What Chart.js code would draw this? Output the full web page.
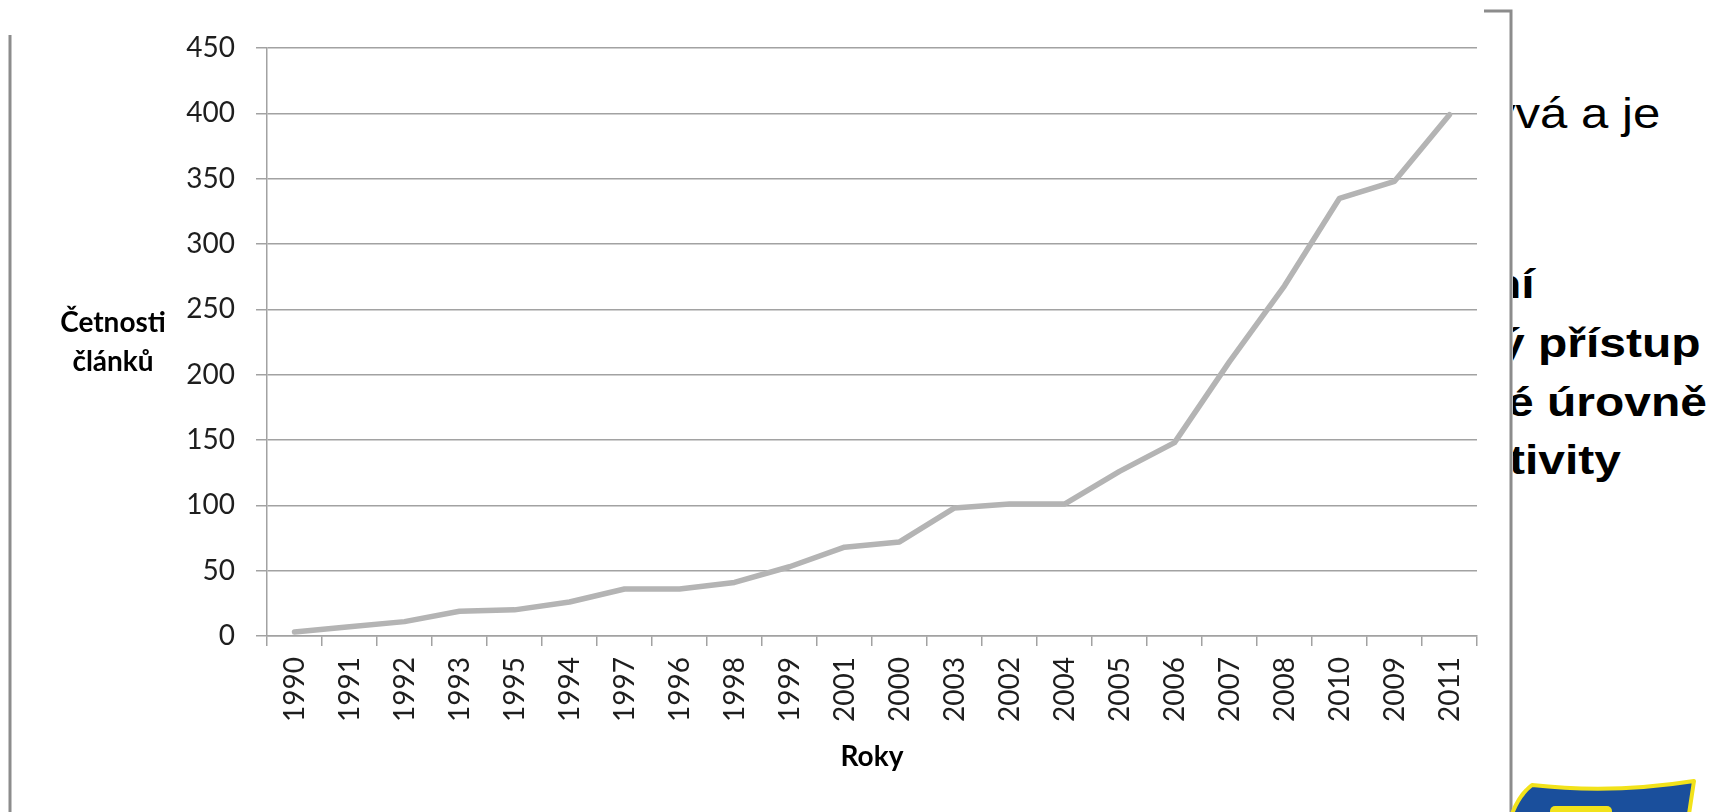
<!DOCTYPE html>
<html lang="cs">
<head>
<meta charset="utf-8">
<title>Četnosti článků podle roků</title>
<script src="https://cdn.jsdelivr.net/npm/chart.js@4.4.1/dist/chart.umd.min.js"></script>
<style>
  html, body { margin: 0; padding: 0; background: #ffffff; }
  #page { position: relative; width: 1723px; height: 812px; overflow: hidden; background: #ffffff; }
  #chartBox { position: absolute; left: 0; top: 0; width: 1723px; height: 812px; }
  #deco { position: absolute; left: 0; top: 0; width: 1723px; height: 812px; pointer-events: none; }
</style>
</head>
<body>
<div id="page">
  <svg id="deco" width="1723" height="812" xmlns="http://www.w3.org/2000/svg">
    <defs>
      <clipPath id="slideText"><rect x="1513" y="0" width="210" height="812"/></clipPath>
    </defs>
    <!-- slide text partly covered by the chart frame -->
    <g clip-path="url(#slideText)" fill="#000000" font-family="'Liberation Sans', Arial, sans-serif">
      <text transform="translate(1491,128) scale(1.17,1)" font-size="42">ývá a je</text>
      <g font-weight="bold" font-size="41">
        <text transform="translate(1492,298) scale(1.17,1)">ní</text>
        <text transform="translate(1498,357) scale(1.17,1)">ý přístup</text>
        <text transform="translate(1507,416) scale(1.17,1)">é úrovně</text>
        <text transform="translate(1509,474) scale(1.17,1)">tivity</text>
      </g>
    </g>
    <!-- frame edges -->
    <line x1="10" y1="35" x2="10" y2="812" stroke="#8c8c8c" stroke-width="3"/>
    <polyline points="1484,11 1511,11 1511,812" fill="none" stroke="#8c8c8c" stroke-width="3"/>
    <!-- shield emblem in the corner -->
    <path d="M1532,785 Q1612,794 1694,781 L1689,814 L1512,814 Q1519,795 1532,785 Z"
          fill="#1a4f9c" stroke="#f2e21a" stroke-width="4" stroke-linejoin="round"/>
    <rect x="1550" y="806" width="62" height="14" rx="5" fill="#f2e21a"/>
  </svg>
  <div id="chartBox"><canvas id="chart"></canvas></div>
</div>
<script>
// Years in the order they are listed on the category axis
const years = ['1990', '1991', '1992', '1993', '1995', '1994', '1997', '1996', '1998', '1999', '2001',
               '2000', '2003', '2002', '2004', '2005', '2006', '2007', '2008', '2010', '2009', '2011'];
// Number of articles per year
const articleCounts = [3, 7, 11, 19, 20, 26, 36, 36, 41, 53, 68,
                       72, 98, 101, 101, 126, 148, 210, 268, 335, 348, 399];
// Value axis range and step
const yMin = 0;
const yMax = 450;
const yStep = 50;
// Axis titles
const xTitle = 'Roky';
const yTitleLines = ['Četnosti', 'článků'];

const axisGrey = '#a2a2a2';
const labelColor = '#1e1e1e';
const tickFont = { family: 'Lato, "Open Sans", sans-serif', size: 28 };
const titleFont = { family: 'Lato, "Open Sans", sans-serif', size: 28, weight: 'bold' };

// Horizontal, two-line value-axis title drawn to the left of the tick labels
const sideTitle = {
  id: 'sideTitle',
  afterDraw(chart) {
    const { ctx, chartArea } = chart;
    const midY = (chartArea.top + chartArea.bottom) / 2;
    const lineGap = 39;
    ctx.save();
    ctx.font = `bold ${titleFont.size}px ${titleFont.family}`;
    ctx.fillStyle = '#000000';
    ctx.textAlign = 'center';
    ctx.textBaseline = 'middle';
    yTitleLines.forEach((line, i) => {
      const y = midY + (i - (yTitleLines.length - 1) / 2) * lineGap;
      ctx.fillText(line, 113, y);
    });
    ctx.restore();
  }
};

new Chart(document.getElementById('chart'), {
  type: 'line',
  data: {
    labels: years,
    datasets: [{
      data: articleCounts,
      borderColor: '#b4b4b4',
      borderWidth: 5.5,
      borderJoinStyle: 'round',
      borderCapStyle: 'round',
      tension: 0,
      pointRadius: 0,
      pointHoverRadius: 0,
      fill: false
    }]
  },
  options: {
    responsive: true,
    maintainAspectRatio: false,
    animation: false,
    devicePixelRatio: 1,
    layout: { padding: { left: 0, top: 48, right: 246, bottom: 0 } },
    plugins: {
      legend: { display: false },
      tooltip: { enabled: false },
      title: { display: false }
    },
    scales: {
      x: {
        type: 'category',
        offset: true,
        afterFit(scale) { scale.height = 176; },
        grid: {
          offset: true,
          drawOnChartArea: false,
          drawTicks: true,
          tickLength: 10,
          color: axisGrey,
          lineWidth: 1.5
        },
        border: { display: true, color: axisGrey, width: 1.5 },
        ticks: {
          autoSkip: false,
          maxRotation: 90,
          minRotation: 90,
          padding: 11,
          color: labelColor,
          font: tickFont
        },
        title: {
          display: true,
          text: xTitle,
          color: '#000000',
          font: titleFont,
          padding: { top: 0, bottom: 38 }
        }
      },
      y: {
        min: yMin,
        max: yMax,
        afterFit(scale) { scale.width = 267; },
        grid: {
          drawTicks: true,
          tickLength: 11,
          color: axisGrey,
          lineWidth: 1.5
        },
        border: { display: true, color: axisGrey, width: 1.5 },
        ticks: {
          stepSize: yStep,
          padding: 21,
          color: labelColor,
          font: tickFont
        },
        title: { display: false }
      }
    }
  },
  plugins: [sideTitle]
});
</script>
</body>
</html>
